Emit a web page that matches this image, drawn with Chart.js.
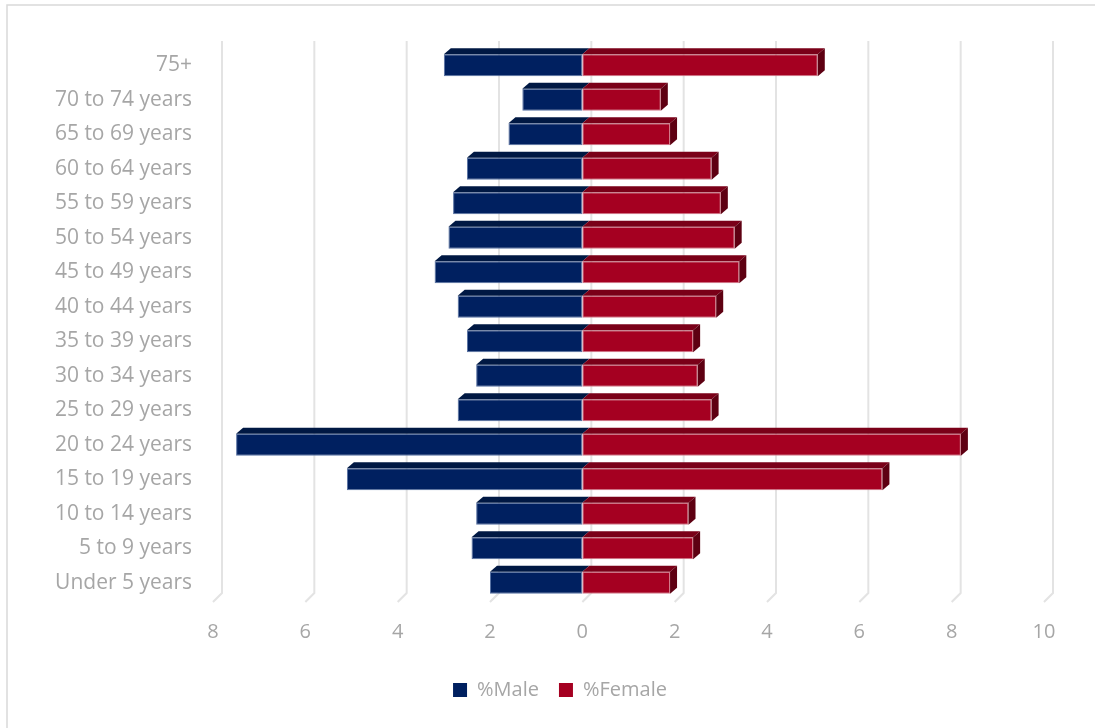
<!DOCTYPE html>
<html>
<head>
<meta charset="utf-8">
<script src="https://cdn.jsdelivr.net/npm/chart.js@4/dist/chart.umd.min.js"></script>
<style>
  html, body { margin: 0; padding: 0; background: #ffffff; }
  #wrap { width: 1095px; height: 728px; position: relative; }
</style>
</head>
<body>
<div id="wrap"><canvas id="c" width="1095" height="728"></canvas></div>
<script>
const categories = ['75+', '70 to 74 years', '65 to 69 years', '60 to 64 years', '55 to 59 years',
  '50 to 54 years', '45 to 49 years', '40 to 44 years', '35 to 39 years', '30 to 34 years',
  '25 to 29 years', '20 to 24 years', '15 to 19 years', '10 to 14 years', '5 to 9 years', 'Under 5 years'];
const malePct   = [3.0, 1.3, 1.6, 2.5, 2.8, 2.9, 3.2, 2.7, 2.5, 2.3, 2.7, 7.5, 5.1, 2.3, 2.4, 2.0];
const femalePct = [5.1, 1.7, 1.9, 2.8, 3.0, 3.3, 3.4, 2.9, 2.4, 2.5, 2.8, 8.2, 6.5, 2.3, 2.4, 1.9];
const seriesNames = ['%Male', '%Female'];
const xTickMin = -8, xTickMax = 10, xTickStep = 2;

const TEXT = '#a6a6a6';
const FONT = "'Open Sans', 'Noto Sans', sans-serif";
const faceColors = [
  { front: '#002060', top: '#001843', side: '#00122f', border: '#5872a3' },
  { front: '#a50021', top: '#7a0018', side: '#5e0012', border: '#d27a8a' }
];

const frame = {
  id: 'frame',
  beforeDraw(chart) {
    const ctx = chart.ctx;
    ctx.save();
    ctx.fillStyle = '#ffffff';
    ctx.fillRect(0, 0, chart.width, chart.height);
    ctx.strokeStyle = '#d9d9d9';
    ctx.lineWidth = 1.5;
    ctx.strokeRect(7, 5, chart.width + 20, chart.height + 20);
    ctx.restore();
  }
};

const legendShift = {
  id: 'legendShift',
  afterLayout(chart) {
    if (chart.legend) {
      chart.legend.left += 38;
      chart.legend.right += 38;
    }
  }
};

const backGrid = {
  id: 'backGrid',
  beforeDatasetsDraw(chart) {
    const ctx = chart.ctx, xs = chart.scales.x, area = chart.chartArea;
    ctx.save();
    ctx.strokeStyle = '#e3e3e3';
    ctx.lineWidth = 2;
    xs.ticks.forEach(t => {
      const px = xs.getPixelForValue(t.value);
      ctx.beginPath();
      ctx.moveTo(px + 9, area.top - 7);
      ctx.lineTo(px + 9, area.bottom - 7);
      ctx.lineTo(px, area.bottom + 2);
      ctx.stroke();
    });
    ctx.restore();
  }
};

const bar3d = {
  id: 'bar3d',
  afterDatasetsDraw(chart) {
    const ctx = chart.ctx;
    const dx = 7, dy = -6;
    ctx.save();
    chart.data.datasets.forEach((ds, di) => {
      const meta = chart.getDatasetMeta(di);
      const col = faceColors[di];
      meta.data.forEach(el => {
        const p = el.getProps(['x', 'y', 'base', 'height'], true);
        const left = Math.min(p.x, p.base), right = Math.max(p.x, p.base);
        const top = p.y - p.height / 2, bottom = p.y + p.height / 2;
        ctx.fillStyle = col.top;
        ctx.beginPath();
        ctx.moveTo(left, top);
        ctx.lineTo(left + dx, top + dy);
        ctx.lineTo(right + dx, top + dy);
        ctx.lineTo(right, top);
        ctx.closePath();
        ctx.fill();
        if (di === 1) {
          ctx.fillStyle = col.side;
          ctx.beginPath();
          ctx.moveTo(right, top);
          ctx.lineTo(right + dx, top + dy);
          ctx.lineTo(right + dx, bottom + dy);
          ctx.lineTo(right, bottom);
          ctx.closePath();
          ctx.fill();
        }
      });
    });
    ctx.restore();
  }
};

new Chart(document.getElementById('c'), {
  type: 'bar',
  data: {
    labels: categories,
    datasets: [
      { label: seriesNames[0], data: malePct.map(v => -v), backgroundColor: faceColors[0].front,
        borderColor: faceColors[0].border, borderWidth: 1, borderSkipped: false },
      { label: seriesNames[1], data: femalePct, backgroundColor: faceColors[1].front,
        borderColor: faceColors[1].border, borderWidth: 1, borderSkipped: false }
    ]
  },
  options: {
    indexAxis: 'y',
    responsive: false,
    animation: false,
    devicePixelRatio: 1,
    layout: { padding: { left: 0, right: 51, top: 48, bottom: 18 } },
    datasets: { bar: { categoryPercentage: 1, barPercentage: 0.64 } },
    scales: {
      x: {
        stacked: true,
        min: xTickMin, max: xTickMax,
        grid: { display: false, drawTicks: false },
        border: { display: false },
        ticks: { stepSize: xTickStep, color: TEXT, font: { family: FONT, size: 20 }, padding: 20,
          callback: v => Math.abs(v) },
        afterFit: s => { s.height = 60; }
      },
      y: {
        stacked: true,
        grid: { display: false, drawTicks: false },
        border: { display: false },
        ticks: { color: TEXT, font: { family: FONT, size: 21 }, padding: 21 },
        afterFit: s => { s.width = 213; }
      }
    },
    plugins: {
      tooltip: { enabled: false },
      legend: {
        position: 'bottom',
        labels: {
          color: TEXT, font: { family: FONT, size: 20 }, boxWidth: 14, boxHeight: 14, padding: 20,
          generateLabels: chart => Chart.defaults.plugins.legend.labels.generateLabels(chart)
            .map(l => Object.assign(l, { lineWidth: 0, strokeStyle: 'rgba(0,0,0,0)' }))
        }
      }
    }
  },
  plugins: [frame, legendShift, backGrid, bar3d]
});
</script>
</body>
</html>
